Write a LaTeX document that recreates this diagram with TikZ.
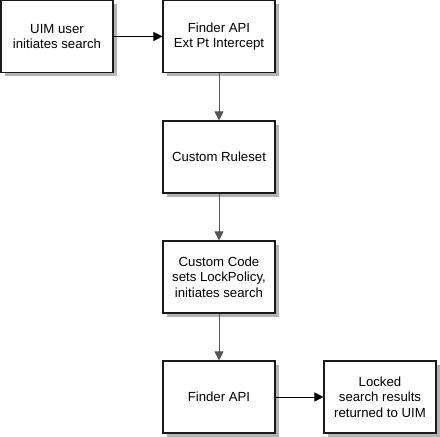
\documentclass[tikz,border=0pt]{standalone}
\usepackage{fontspec}
\setmainfont{Liberation Sans}
\usetikzlibrary{arrows.meta}
\definecolor{boxline}{HTML}{1A1A1A}
\definecolor{shadowgray}{HTML}{B4B4B4}
\definecolor{vline}{HTML}{555555}
\begin{document}
\begin{tikzpicture}[
  procbox/.style={draw=boxline,line width=1.1pt,fill=white,minimum width=112pt,minimum height=72pt,
    inner sep=0pt,align=center,font=\fontsize{13.2}{15.5}\selectfont},
  shadowbox/.style={fill=shadowgray,draw=none,minimum width=112pt,minimum height=72pt,inner sep=0pt},
  flow/.style={line width=1pt,-{Triangle[length=9pt,width=9pt]}},
  vflow/.style={flow,draw=vline}]
\fill[white] (0pt,0pt) rectangle (440pt,-437pt);
\useasboundingbox (0pt,0pt) rectangle (440pt,-437pt);
\node[shadowbox] (s1) at (60.5pt,-40pt) {};
\node[shadowbox] (s2) at (222.5pt,-40pt) {};
\node[shadowbox] (s3) at (222.5pt,-160.5pt) {};
\node[shadowbox] (s4) at (222.5pt,-280.5pt) {};
\node[shadowbox] (s5) at (222.5pt,-400.5pt) {};
\node[shadowbox] (s6) at (383.5pt,-400.5pt) {};
\node[procbox] (b1) at (57pt,-36.5pt) {UIM user\\initiates search};
\node[procbox] (b2) at (219pt,-36.5pt) {Finder API\\Ext Pt Intercept};
\node[procbox] (b3) at (219pt,-157pt) {Custom Ruleset};
\node[procbox] (b4) at (219pt,-277pt) {Custom Code\\sets LockPolicy,\\initiates search};
\node[procbox] (b5) at (219pt,-397pt) {Finder API};
\node[procbox] (b6) at (380pt,-397pt) {Locked\\search results\\returned to UIM};
\draw[flow] (b1) -- (b2);
\draw[vflow] (b2) -- (b3);
\draw[vflow] (b3) -- (b4);
\draw[vflow] (b4) -- (b5);
\draw[flow] (b5) -- (b6);
\end{tikzpicture}
\end{document}
